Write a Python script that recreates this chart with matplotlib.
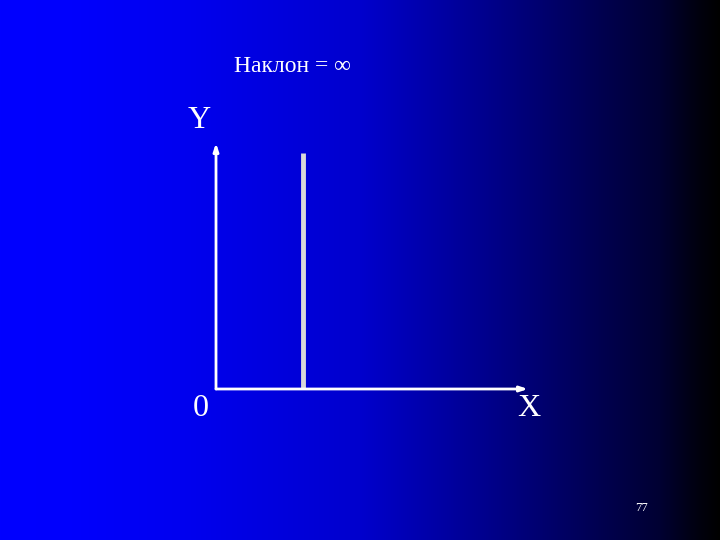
import numpy as np
import matplotlib
matplotlib.use("Agg")
import matplotlib.pyplot as plt

# Data
title_text = "Наклон = ∞"
x_label = "X"
y_label = "Y"
origin_label = "0"
page_number = "77"
line_x = [2.8, 2.8]      # vertical line (slope = infinity)
line_y = [0.0, 9.6]
x_range = [0, 10]
y_range = [0, 10]

plt.rcParams['font.family'] = ['Liberation Serif', 'DejaVu Serif']

fig = plt.figure(figsize=(7.2, 5.4), dpi=100)

# Gradient background
bg = fig.add_axes([0, 0, 1, 1])
t = np.linspace(0, 1, 720)
tp = [0, 0.1, 0.25, 0.5, 0.667, 0.833, 0.917, 0.97, 1.0]
bp = [255, 253, 240, 205, 144, 80, 50, 15, 0]
blue = np.interp(t, tp, bp) / 255.0
img = np.zeros((1, 720, 3))
img[0, :, 2] = blue
bg.imshow(img, aspect='auto', extent=[0, 1, 0, 1])
bg.set_axis_off()

ax = fig.add_axes([216/720, 1 - 389/540, (528-216)/720, (389-143)/540])
ax.set_xlim(x_range)
ax.set_ylim(y_range)
ax.patch.set_alpha(0)
for s in ax.spines.values():
    s.set_visible(False)
ax.set_xticks([])
ax.set_yticks([])

arrow = dict(arrowstyle='-|>,head_length=0.45,head_width=0.15', color='white', lw=2, shrinkA=0, shrinkB=0)
ax.annotate('', xy=(x_range[1], 0), xytext=(0, 0), arrowprops=arrow, annotation_clip=False)
ax.annotate('', xy=(0, y_range[1]), xytext=(0, 0), arrowprops=arrow, annotation_clip=False)

ax.plot(line_x, line_y, color='#d9d9d9', lw=3.5, solid_capstyle='butt')

fig.text(293/720, 1 - 66/540, title_text, color='white', fontsize=17, ha='center', va='center')
fig.text(199/720, 1 - 121/540, y_label, color='white', fontsize=23, ha='center', va='center')
fig.text(201/720, 1 - 408/540, origin_label, color='white', fontsize=23, ha='center', va='center')
fig.text(529/720, 1 - 408/540, x_label, color='white', fontsize=23, ha='center', va='center')
fig.text(641/720, 1 - 508/540, page_number, color='white', fontsize=9, ha='center', va='center')

fig.savefig('out.png', dpi=100)
